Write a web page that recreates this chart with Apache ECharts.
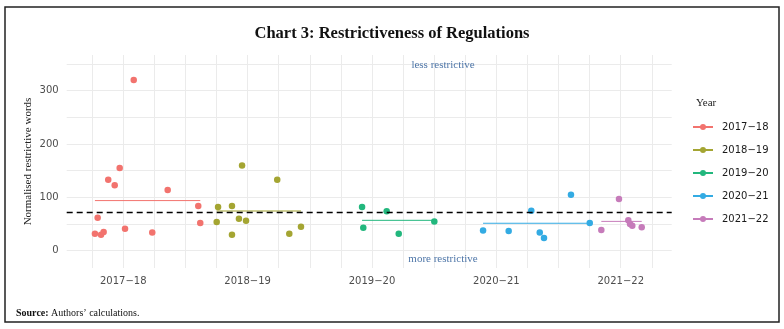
<!DOCTYPE html>
<html>
<head>
<meta charset="utf-8">
<script src="https://cdn.jsdelivr.net/npm/echarts@6/dist/echarts.min.js"></script>
<style>
html,body{margin:0;padding:0;background:#fff;}
#chart{width:784px;height:329px;}
</style>
</head>
<body>
<div id="chart"></div>
<script>
// ---- data ----
const years = ['2017−18', '2018−19', '2019−20', '2020−21', '2021−22'];
const yearTicks = [0, 1, 2, 3, 4];
const yTickLabels = [0, 100, 200, 300];

const pos1718 = [-0.228, -0.206, -0.179, -0.158, -0.121, -0.069, -0.029, 0.014, 0.084, 0.233, 0.357, 0.603, 0.619];
const val1718 = [32, 62, 30, 35, 133, 123, 155, 41, 320, 34, 114, 84, 52];
const pos1819 = [0.751, 0.762, 0.874, 0.874, 0.930, 0.955, 0.987, 1.238, 1.335, 1.429];
const val1819 = [54, 82, 84, 30, 60, 160, 56, 133, 32, 45];
const pos1920 = [1.920, 1.930, 2.118, 2.215, 2.501];
const val1920 = [82, 43, 74, 32, 55];
const pos2021 = [2.893, 3.099, 3.281, 3.349, 3.383, 3.600, 3.751];
const val2021 = [38, 37, 75, 34, 24, 105, 52];
const pos2122 = [3.844, 3.986, 4.061, 4.075, 4.093, 4.169];
const val2122 = [39, 97, 57, 50, 47, 44];

const groupMeans = [94, 74.5, 57, 51.5, 55];
const overallMean = 72;

const colors = ['#F2736E', '#A4A532', '#22B77D', '#33ABE3', '#C67BBA'];
const groups = [
  [pos1718, val1718], [pos1819, val1819], [pos1920, val1920], [pos2021, val2021], [pos2122, val2122]
];

const series = [];
groups.forEach(function (g, i) {
  const xs = g[0], ys = g[1];
  const x0 = Math.min.apply(null, xs), x1 = Math.max.apply(null, xs);
  series.push({
    name: years[i], type: 'line', symbol: 'circle', showSymbol: false,
    data: [[x0, groupMeans[i]], [x1, groupMeans[i]]],
    lineStyle: {color: colors[i], width: 1}, itemStyle: {color: colors[i]},
    silent: true, z: 2
  });
  series.push({
    name: years[i], type: 'scatter', symbol: 'circle', symbolSize: 6.5,
    data: xs.map(function (x, k) { return [x, ys[k]]; }),
    itemStyle: {color: colors[i], opacity: 1}, z: 3
  });
});
// dashed overall mean + annotations
series.push({
  type: 'scatter', data: [], silent: true,
  markLine: {
    silent: true, symbol: 'none', label: {show: false},
    lineStyle: {color: '#000', type: [6, 4], width: 1.4},
    data: [{yAxis: overallMean}]
  },
  markPoint: {
    symbol: 'circle', symbolSize: 0, silent: true,
    label: {show: true, position: 'inside', color: '#4E76A8', fontFamily: 'Liberation Serif', fontSize: 11,
      formatter: function (p) { return p.name; }},
    data: [
      {name: 'less restrictive', coord: [2.571, 348]},
      {name: 'more restrictive', coord: [2.571, -15.6]}
    ]
  }
});

const chart = echarts.init(document.getElementById('chart'), null, {renderer: 'canvas'});
chart.setOption({
  animation: false,
  backgroundColor: '#fff',
  title: [
    {text: 'Chart 3: Restrictiveness of Regulations', left: 'center', top: 20,
      textStyle: {fontFamily: 'Liberation Serif', fontWeight: 'bold', fontSize: 16.5, color: '#111'}},
    {text: 'Year', left: 691, top: 93,
      textStyle: {fontFamily: 'Liberation Serif', fontWeight: 'normal', fontSize: 11, color: '#222'}}
  ],
  grid: {left: 66.7, right: 112.3, top: 55, bottom: 61},
  xAxis: {
    type: 'value', min: -0.455, max: 4.41,
    axisLine: {show: false},
    axisTick: {show: false, customValues: [-0.25, 0, 0.25, 0.5, 0.75, 1, 1.25, 1.5, 1.75, 2, 2.25, 2.5, 2.75, 3, 3.25, 3.5, 3.75, 4, 4.25]},
    axisLabel: {customValues: yearTicks, formatter: function (v) { return years[Math.round(v)]; },
      color: '#4d4d4d', fontFamily: 'DejaVu Sans', fontSize: 10, margin: 8},
    splitLine: {show: true, lineStyle: {color: '#ebebeb', width: 1}}
  },
  yAxis: {
    type: 'value', min: -32.4, max: 367,
    name: 'Normalised restrictive words', nameLocation: 'middle', nameGap: 33, nameMoveOverlap: false,
    nameTextStyle: {fontFamily: 'Liberation Serif', fontSize: 11, color: '#222'},
    axisLine: {show: false},
    axisTick: {show: false, customValues: [0, 50, 100, 150, 200, 250, 300, 350]},
    axisLabel: {customValues: yTickLabels, color: '#4d4d4d', fontFamily: 'DejaVu Sans', fontSize: 10, margin: 8},
    splitLine: {show: true, lineStyle: {color: '#ebebeb', width: 1}}
  },
  legend: {
    orient: 'vertical', left: 692, top: 122, padding: 0, itemWidth: 20, itemHeight: 7.5, itemGap: 13,
    data: years,
    textStyle: {fontFamily: 'DejaVu Sans', fontSize: 10, color: '#1a1a1a', padding: [0, 0, 0, 4]}
  },
  graphic: [
    {type: 'rect', shape: {x: 5, y: 7, width: 774, height: 315},
      style: {fill: 'none', stroke: '#222', lineWidth: 1.5}, silent: true},
    {type: 'text', left: 16, top: 308,
      style: {rich: {b: {fontWeight: 'bold', fontFamily: 'Liberation Serif', fontSize: 10, fill: '#111'},
                     n: {fontFamily: 'Liberation Serif', fontSize: 10, fill: '#111'}},
              text: '{b|Source:}{n| Authors’ calculations.}'}}
  ],
  series: series
});
</script>
</body>
</html>
